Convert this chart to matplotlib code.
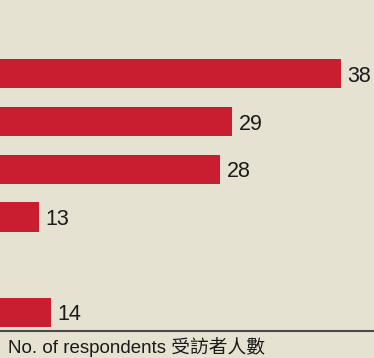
import numpy as np
import matplotlib
matplotlib.use("Agg")
import matplotlib.pyplot as plt

plt.rcParams["font.family"] = ["Liberation Sans", "Noto Sans CJK TC", "DejaVu Sans"]

# slots from top to bottom; the fifth slot is empty in the source
slots = [0, 1, 2, 3, 4, 5]
values = [38, 29, 28, 13, np.nan, 14]
value_labels = ["38", "29", "28", "13", "", "14"]
axis_label = "No. of respondents 受訪者人數"

BG = "#e5e2d2"
BAR = "#c81e30"

fig = plt.figure(figsize=(3.74, 3.58), dpi=100, facecolor=BG)
ax = fig.add_axes([0, 1 - 331 / 358, 1, 331 / 358])
ax.set_facecolor(BG)

for y, v, lab in zip(slots, values, value_labels):
    if np.isnan(v):
        continue
    ax.barh(y, v, height=0.61, color=BAR, edgecolor="none")
    ax.text(v + 0.55, y + 0.05, lab, va="center", ha="left", fontsize=15.5, color="#1a1a1a")

ax.set_xlim(9.77, 40.73)
ax.set_ylim(5.39, -1.55)
for side in ("top", "left", "right"):
    ax.spines[side].set_visible(False)
ax.spines["bottom"].set_color("#4a4a4a")
ax.spines["bottom"].set_linewidth(1.5)
ax.set_xticks([])
ax.set_yticks([])

fig.text(8 / 374, 1 - 353 / 358, axis_label, ha="left", va="baseline", fontsize=13.5, color="#1a1a1a")

fig.savefig("out.png", dpi=100, facecolor=BG)
